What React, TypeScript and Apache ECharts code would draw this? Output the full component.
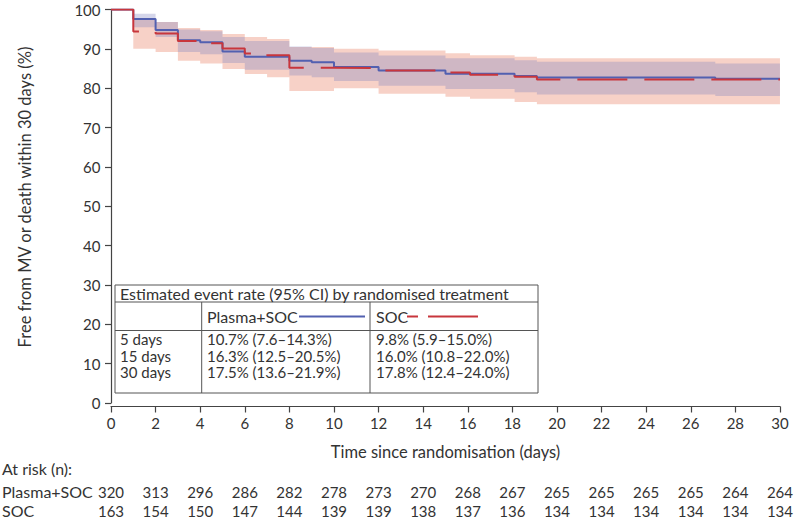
import React, { useEffect, useRef } from "react";
import * as echarts from "echarts";

// ---------- data ----------
const tickDays = [0, 2, 4, 6, 8, 10, 12, 14, 16, 18, 20, 22, 24, 26, 28, 30];
const atRiskPlasma = [320, 313, 296, 286, 282, 278, 273, 270, 268, 267, 265, 265, 265, 265, 264, 264];
const atRiskSoc = [163, 154, 150, 147, 144, 139, 139, 138, 137, 136, 134, 134, 134, 134, 134, 134];

// Plasma+SOC Kaplan-Meier steps (day, % free from event) with 95% CI
const plasmaTimes = [0, 1, 2, 3, 4, 5, 6, 8, 9, 10, 12, 15, 18.1, 19.1, 27.1];
const plasmaSurv = [100, 97.6, 94.8, 92.2, 91.7, 89.3, 88.0, 87.0, 86.6, 85.4, 84.5, 83.7, 83.1, 82.7, 82.4];
const plasmaLower = [100, 95.5, 93.0, 89.2, 88.6, 86.4, 84.7, 83.2, 82.8, 81.8, 80.6, 79.8, 79.0, 78.4, 78.0];
const plasmaUpper = [100, 98.9, 96.8, 94.9, 94.5, 93.0, 92.0, 90.6, 90.2, 89.1, 88.3, 87.6, 87.1, 86.7, 86.3];

// SOC Kaplan-Meier steps with 95% CI
const socTimes = [0, 1, 2, 3, 4, 5, 6, 7, 8, 10, 12, 15, 16.1, 18.1, 19.1];
const socSurv = [100, 94.4, 93.9, 92.0, 91.4, 90.1, 88.8, 88.4, 85.2, 85.1, 84.5, 84.0, 83.4, 82.9, 82.2];
const socLower = [100, 90.0, 89.2, 87.0, 86.3, 84.9, 83.6, 82.8, 79.3, 80.0, 78.6, 77.8, 77.3, 76.5, 75.9];
const socUpper = [100, 97.6, 96.8, 95.3, 94.8, 93.8, 93.0, 92.5, 90.5, 90.0, 89.6, 88.9, 88.4, 88.0, 87.6];

const endDay = 30;

// texts
const xTitle = "Time since randomisation (days)";
const yTitle = "Free from MV or death within 30 days (%)";
const atRiskTitle = "At risk (n):";
const tableTitle = "Estimated event rate (95% CI) by randomised treatment";
const groupNames = ["Plasma+SOC", "SOC"];
const rowLabels = ["5 days", "15 days", "30 days"];
const plasmaRates = ["10.7% (7.6–14.3%)", "16.3% (12.5–20.5%)", "17.5% (13.6–21.9%)"];
const socRates = ["9.8% (5.9–15.0%)", "16.0% (10.8–22.0%)", "17.8% (12.4–24.0%)"];

// ---------- styles ----------
const FONT = "Lato";
const TXT = "#333";
const BLUE = "#5260b0";
const RED = "#c8363c";
const BLUE_BAND = "rgba(128,130,192,0.33)";
const RED_BAND = "rgba(236,140,115,0.40)";

function stepLine(times: number[], vals: number[]) {
  const d = times.map((t, i) => [t, vals[i]]);
  d.push([endDay, vals[vals.length - 1]]);
  return d;
}

function bandSeries(name: string, times: number[], lower: number[], upper: number[], fill: string) {
  return {
    name,
    type: "custom",
    data: [[0, 100]],
    silent: true,
    z: 1,
    renderItem: (_params: any, api: any) => {
      const top: number[][] = [];
      const bot: number[][] = [];
      for (let i = 0; i < times.length; i++) {
        const t0 = times[i];
        const t1 = i + 1 < times.length ? times[i + 1] : endDay;
        top.push(api.coord([t0, upper[i]]), api.coord([t1, upper[i]]));
        bot.push(api.coord([t0, lower[i]]), api.coord([t1, lower[i]]));
      }
      const pts = top.concat(bot.reverse());
      return { type: "polygon", shape: { points: pts }, style: { fill, stroke: "none" } };
    },
  };
}

export default function App() {
  const ref = useRef<HTMLDivElement>(null);
  useEffect(() => {
    if (!ref.current) return;
    const chart = echarts.init(ref.current, undefined, { renderer: "svg" });

    const tx = (text: string, x: number, y: number, size = 16) => ({
      type: "text",
      x,
      y,
      silent: true,
      style: { text, fill: TXT, font: `${size}px ${FONT}`, textVerticalAlign: "middle" },
    });
    const ln = (x1: number, y1: number, x2: number, y2: number, stroke = "#555", extra: any = {}) => ({
      type: "line",
      silent: true,
      shape: { x1, y1, x2, y2 },
      style: { stroke, lineWidth: 1, ...extra },
    });

    const L = 115, R = 538, T = 285, Y1 = 302, Y2 = 330.5, B = 393, C1 = 201.7, C2 = 370;
    const rowY = [338.5, 355.5, 372];

    const graphics: any[] = [
      { type: "rect", silent: true, shape: { x: L, y: T, width: R - L, height: B - T }, style: { fill: "#fff", stroke: "#555", lineWidth: 1 }, z: 50 },
      { ...ln(L, Y1, R, Y1), z: 51 },
      { ...ln(L, Y2, R, Y2), z: 51 },
      { ...ln(C1, Y1, C1, B), z: 51 },
      { ...ln(C2, Y1, C2, B), z: 51 },
      { ...tx(tableTitle, 120, 293.5), z: 52 },
      { ...tx(groupNames[0], 207, 316.5), z: 52 },
      { ...ln(299, 316.5, 365, 316.5, BLUE, { lineWidth: 2 }), z: 52 },
      { ...tx(groupNames[1], 376, 316.5), z: 52 },
      { ...ln(407, 316.5, 478, 316.5, RED, { lineWidth: 2, lineDash: [11, 10, 50, 30] }), z: 52 },
      ...rowLabels.map((s, i) => ({ ...tx(s, 120, rowY[i], 15), z: 52 })),
      ...plasmaRates.map((s, i) => ({ ...tx(s, 207, rowY[i], 15), z: 52 })),
      ...socRates.map((s, i) => ({ ...tx(s, 376, rowY[i], 15), z: 52 })),
      tx(atRiskTitle, 2, 468),
      tx(groupNames[0], 2, 491.5),
      tx(groupNames[1], 2, 510.5),
      {
        type: "text",
        x: 25,
        y: 197,
        rotation: Math.PI / 2,
        silent: true,
        style: { text: yTitle, fill: TXT, font: `16.5px ${FONT}`, textAlign: "center", textVerticalAlign: "middle" },
      },
    ];

    const riskAxis = (vals: number[], offset: number) => ({
      type: "value",
      min: 0,
      max: 30,
      interval: 2,
      position: "bottom",
      offset,
      axisLine: { show: false },
      axisTick: { show: false },
      splitLine: { show: false },
      axisLabel: {
        margin: 0,
        color: TXT,
        fontFamily: FONT,
        fontSize: 15,
        formatter: (v: number) => {
          const idx = tickDays.indexOf(v);
          return idx >= 0 ? String(vals[idx]) : "";
        },
      },
    });

    chart.setOption({
      animation: false,
      textStyle: { fontFamily: FONT },
      grid: { left: 111, right: 15, top: 9.5, bottom: 119 },
      xAxis: [
        {
          type: "value",
          min: 0,
          max: 30,
          interval: 2,
          offset: 3.5,
          axisLine: { show: true, onZero: false, lineStyle: { color: "#444", width: 1.2 } },
          axisTick: { show: true, length: 6, lineStyle: { color: "#444", width: 1.2 } },
          splitLine: { show: false },
          axisLabel: { color: TXT, fontSize: 15, fontFamily: FONT, margin: 9 },
          name: xTitle,
          nameLocation: "middle",
          nameGap: 37,
          nameTextStyle: { color: TXT, fontSize: 16.5, fontFamily: FONT },
        },
        riskAxis(atRiskPlasma, 81),
        riskAxis(atRiskSoc, 100),
      ],
      yAxis: {
        type: "value",
        min: 0,
        max: 100,
        interval: 10,
        offset: 1.5,
        axisLine: { show: true, lineStyle: { color: "#444", width: 1.2 } },
        axisTick: { show: true, length: 6, lineStyle: { color: "#444", width: 1.2 } },
        splitLine: { show: false },
        axisLabel: { color: TXT, fontSize: 15, fontFamily: FONT, margin: 9 },
      },
      series: [
        bandSeries("SOC CI", socTimes, socLower, socUpper, RED_BAND),
        bandSeries("Plasma+SOC CI", plasmaTimes, plasmaLower, plasmaUpper, BLUE_BAND),
        {
          name: "Plasma+SOC",
          type: "line",
          step: "end",
          symbol: "none",
          z: 3,
          data: stepLine(plasmaTimes, plasmaSurv),
          lineStyle: { color: BLUE, width: 2 },
        },
        {
          name: "SOC",
          type: "line",
          step: "end",
          symbol: "none",
          z: 4,
          data: stepLine(socTimes, socSurv),
          lineStyle: { color: RED, width: 2, type: [50, 17], dashOffset: 0 },
        },
      ],
      graphic: { elements: graphics },
    });
    return () => chart.dispose();
  }, []);
  return <div ref={ref} style={{ position: "absolute", left: 0, top: 0, width: 796, height: 522 }} />;
}
